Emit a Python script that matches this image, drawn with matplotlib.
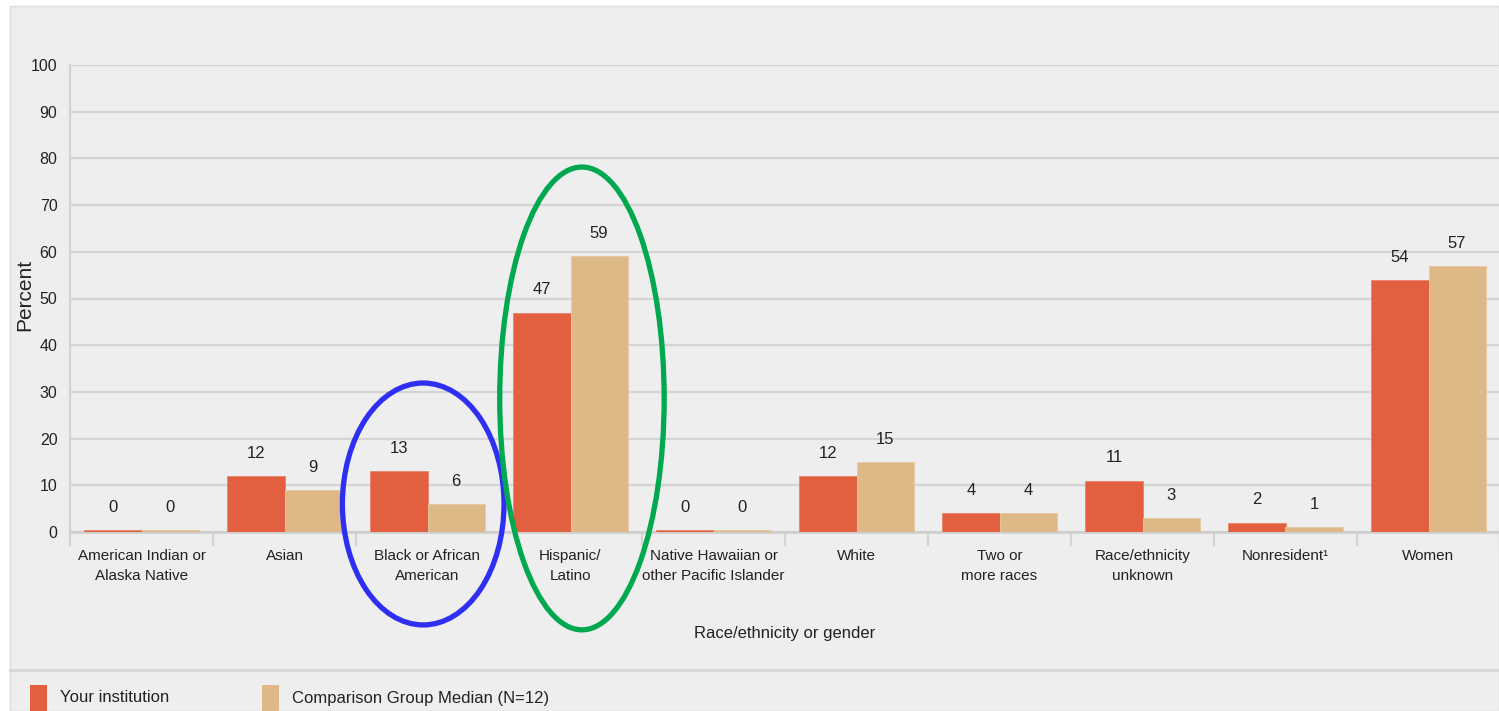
import matplotlib
matplotlib.use("Agg")
import matplotlib.pyplot as plt
from matplotlib.patches import Rectangle, Ellipse
from matplotlib.lines import Line2D
import numpy as np

categories = ["American Indian or\nAlaska Native", "Asian", "Black or African\nAmerican",
              "Hispanic/\nLatino", "Native Hawaiian or\nother Pacific Islander", "White",
              "Two or\nmore races", "Race/ethnicity\nunknown", "Nonresident\u00b9", "Women"]
your_institution = [0, 12, 13, 47, 0, 12, 4, 11, 2, 54]
comparison_median = [0, 9, 6, 59, 0, 15, 4, 3, 1, 57]
series_names = ["Your institution", "Comparison Group Median (N=12)"]
yticks = [0, 10, 20, 30, 40, 50, 60, 70, 80, 90, 100]

ORANGE = "#e2603f"
TAN = "#deb887"
BG = "#eeeeee"
GRID = "#d4d4d4"
TXT = "#222222"
FONT = ["Liberation Sans", "DejaVu Sans"]
plt.rcParams["font.family"] = FONT

W, H = 1499, 711
fig = plt.figure(figsize=(W / 100, H / 100), dpi=100)
fig.patch.set_facecolor("white")

def fx(px):
    return px / W

def fy(py):
    return 1 - py / H

# grey panel
fig.patches.append(Rectangle((fx(10), 0), 1 - fx(10), fy(6), transform=fig.transFigure,
                             facecolor=BG, edgecolor="#dddddd", lw=1.0, zorder=-10))
fig.lines.append(Line2D([fx(10), 1], [fy(670), fy(670)], transform=fig.transFigure,
                        color="#d6d6d6", lw=2.0))

ax = fig.add_axes([fx(70), fy(532), fx(1430), fy(65) - fy(532)])
ax.set_facecolor(BG)

x = np.arange(len(categories))
bw = 0.4
min_len = 0.4  # minimum drawn bar length so zero values remain visible
h1 = [max(v, min_len) for v in your_institution]
h2 = [max(v, min_len) for v in comparison_median]
ax.bar(x - bw / 2, h1, bw, color=ORANGE, zorder=3, edgecolor="#e8836a", lw=0.6)
ax.bar(x + bw / 2, h2, bw, color=TAN, zorder=3, edgecolor="#e6c89f", lw=0.6)

for xi, v, h in zip(x, your_institution, h1):
    ax.annotate(str(v), (xi - bw / 2, h), xytext=(0, 11), textcoords="offset points",
                ha="center", va="bottom", fontsize=12, color=TXT)
for xi, v, h in zip(x, comparison_median, h2):
    ax.annotate(str(v), (xi + bw / 2, h), xytext=(0, 11), textcoords="offset points",
                ha="center", va="bottom", fontsize=12, color=TXT)

ax.set_xlim(-0.5, len(categories) - 0.5)
ax.set_ylim(0, 100)
ax.set_yticks(yticks)
ax.set_yticklabels([str(t) for t in yticks], fontsize=11.5, color=TXT)
ax.yaxis.grid(True, color=GRID, lw=1.6, zorder=0)
ax.set_axisbelow(True)
ax.tick_params(axis="y", length=0, pad=9)

ax.set_xticks(x)
ax.set_xticklabels(categories, fontsize=11, color=TXT, linespacing=1.6)
ax.tick_params(axis="x", which="major", length=0, pad=12)
ax.set_xticks(np.arange(len(categories) + 1) - 0.5, minor=True)
ax.tick_params(axis="x", which="minor", length=10, width=1.6, color=GRID)

for s in ["top", "right"]:
    ax.spines[s].set_visible(False)
ax.spines["left"].set_color(GRID)
ax.spines["left"].set_linewidth(1.6)
ax.spines["bottom"].set_color("#cfcfcf")
ax.spines["bottom"].set_linewidth(2.0)

ax.set_xlabel("Race/ethnicity or gender", fontsize=12, color=TXT, labelpad=31)
fig.text(fx(25), fy(295), "Percent", rotation=90, ha="center", va="center",
         fontsize=15, color=TXT)

# annotation ellipses
ax.add_patch(Ellipse((1.97, 6.0), 1.13, 51.8, fill=False, edgecolor="#2f2ff2", lw=3.8,
                     clip_on=False, zorder=5))
ax.add_patch(Ellipse((3.08, 28.6), 1.15, 99.1, fill=False, edgecolor="#00a84f", lw=3.8,
                     clip_on=False, zorder=5))

# legend
for (lx, tx), name, col in zip([(30, 60), (262, 292)], series_names, [ORANGE, TAN]):
    fig.patches.append(Rectangle((fx(lx), 0), fx(17), fy(685), transform=fig.transFigure,
                                 facecolor=col, edgecolor="none"))
    fig.text(fx(tx), fy(698), name, ha="left", va="center", fontsize=12, color=TXT)

fig.savefig("out.png", dpi=100, facecolor=fig.get_facecolor())
